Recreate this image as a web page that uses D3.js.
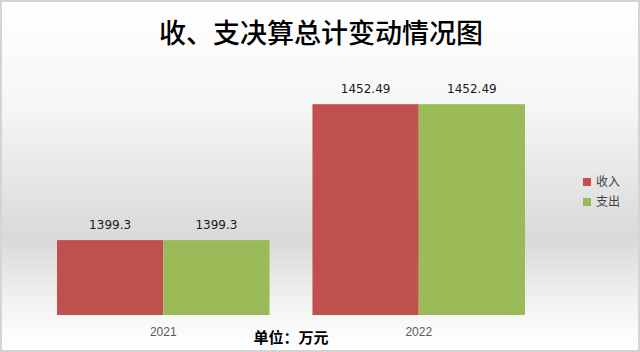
<!DOCTYPE html>
<html>
<head>
<meta charset="utf-8">
<script src="https://cdn.jsdelivr.net/npm/d3@7"></script>
<style>
  body { margin: 0; background: #fff; }
  svg { display: block; }
</style>
</head>
<body>
<div id="chart"></div>
<script>
const years = ["2021", "2022"];
const seriesNames = ["收入", "支出"];
const income = [1399.3, 1452.49];
const expense = [1399.3, 1452.49];
const valueLabels = [["1399.3", "1399.3"], ["1452.49", "1452.49"]];
const colors = ["#C0504D", "#9BBB59"];

const W = 640, H = 352;
const svg = d3.select("#chart").append("svg")
    .attr("width", W)
    .attr("height", H);

// background gradient
const defs = svg.append("defs");
const grad = defs.append("linearGradient")
    .attr("id", "bg")
    .attr("x1", 0).attr("y1", 0).attr("x2", 0).attr("y2", 1);
grad.append("stop").attr("offset", "0%").attr("stop-color", "#ffffff");
grad.append("stop").attr("offset", "30%").attr("stop-color", "#f6f6f6");
grad.append("stop").attr("offset", "68%").attr("stop-color", "#d9d9d9");
grad.append("stop").attr("offset", "90%").attr("stop-color", "#f7f7f7");
grad.append("stop").attr("offset", "100%").attr("stop-color", "#ffffff");

svg.append("rect")
    .attr("x", 1).attr("y", 1)
    .attr("width", W - 2).attr("height", H - 2)
    .attr("fill", "url(#bg)")
    .attr("stroke", "#d4d4d4")
    .attr("stroke-width", 2);

// title
svg.append("text")
    .attr("x", 321)
    .attr("y", 43)
    .attr("text-anchor", "middle")
    .style("font-family", "'Noto Sans CJK SC', sans-serif")
    .style("font-size", "27px")
    .style("font-weight", 500)
    .attr("fill", "#000")
    .text("收、支决算总计变动情况图");

const x0 = d3.scaleBand()
    .domain(years)
    .range([34, 548])
    .paddingInner(0.168)
    .paddingOuter(0.09);

const x1 = d3.scaleBand()
    .domain(seriesNames)
    .range([0, x0.bandwidth()]);

const y = d3.scaleLinear()
    .domain([1370, 1460])
    .range([315, 85]);

const data = years.map((yr, i) => ({
    year: yr,
    values: [
        { name: seriesNames[0], value: income[i], label: valueLabels[i][0] },
        { name: seriesNames[1], value: expense[i], label: valueLabels[i][1] }
    ]
}));

const groups = svg.selectAll(".grp")
    .data(data)
    .enter().append("g")
    .attr("class", "grp")
    .attr("transform", d => `translate(${x0(d.year)},0)`);

groups.selectAll("rect")
    .data(d => d.values)
    .enter().append("rect")
    .attr("x", d => x1(d.name))
    .attr("y", d => y(d.value))
    .attr("width", x1.bandwidth())
    .attr("height", d => y.range()[0] - y(d.value))
    .attr("fill", (d, i) => colors[i]);

groups.selectAll(".lbl")
    .data(d => d.values)
    .enter().append("text")
    .attr("class", "lbl")
    .attr("x", d => x1(d.name) + x1.bandwidth() / 2)
    .attr("y", d => y(d.value) - 11)
    .attr("text-anchor", "middle")
    .style("font-family", "'DejaVu Sans', sans-serif")
    .style("font-size", "12px")
    .attr("fill", "#1a1a1a")
    .text(d => d.label);

// x axis labels
const xAxis = svg.append("g")
    .attr("transform", "translate(0,315)")
    .call(d3.axisBottom(x0).tickSize(0).tickPadding(12));
xAxis.select(".domain").remove();
xAxis.selectAll("text")
    .style("font-family", "'Liberation Sans', sans-serif")
    .style("font-size", "12px")
    .attr("fill", "#595959");

// unit note
svg.append("text")
    .attr("x", 291)
    .attr("y", 343)
    .attr("text-anchor", "middle")
    .style("font-family", "'Noto Sans CJK SC', sans-serif")
    .style("font-size", "15px")
    .style("font-weight", "bold")
    .attr("fill", "#000")
    .text("单位：万元");

// legend
const legend = svg.append("g").attr("transform", "translate(583,178)");
seriesNames.forEach((name, i) => {
    const g = legend.append("g").attr("transform", `translate(0,${i * 20})`);
    g.append("rect")
        .attr("width", 8).attr("height", 8)
        .attr("fill", colors[i]);
    g.append("text")
        .attr("x", 13)
        .attr("y", 8)
        .style("font-family", "'Noto Sans CJK SC', sans-serif")
        .style("font-size", "12px")
        .attr("fill", "#404040")
        .text(name);
});
</script>
</body>
</html>
